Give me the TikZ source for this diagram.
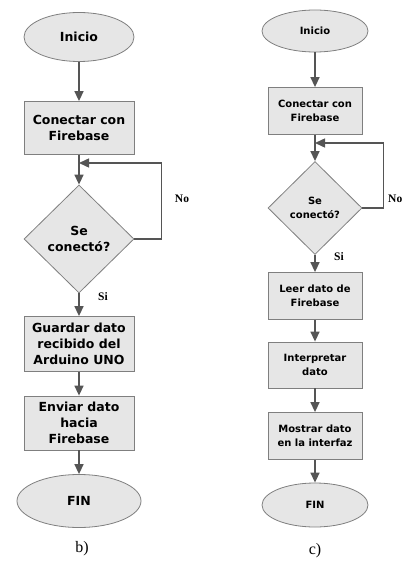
\documentclass[tikz,border=0pt]{standalone}
\usepackage{fontspec}
\setmainfont{Liberation Serif}
\newfontfamily\boxfont{DejaVu Sans}
\usetikzlibrary{shapes.geometric,arrows.meta}
\definecolor{boxfill}{HTML}{E6E6E6}
\definecolor{boxline}{HTML}{7F7F7F}
\definecolor{flowline}{HTML}{555555}

\begin{document}
\begin{tikzpicture}
  [x=1pt,y=-1pt,
    every node/.style={inner sep=0pt,align=center},
    term/.style={ellipse,draw=boxline,fill=boxfill,line width=0.8pt,font=\boxfont\bfseries\fontsize{12.5}{16}\selectfont},
    proc/.style={rectangle,draw=boxline,fill=boxfill,line width=0.8pt,font=\boxfont\bfseries\fontsize{12.5}{16}\selectfont},
    cond/.style={diamond,draw=boxline,fill=boxfill,line width=0.8pt,font=\boxfont\bfseries\fontsize{12.5}{16}\selectfont},
    small/.style={font=\boxfont\bfseries\fontsize{10}{14}\selectfont},
    tag/.style={font=\bfseries\fontsize{11.5}{14}\selectfont},
    caption/.style={font=\fontsize{16}{18}\selectfont},
    arr/.style={draw=flowline,line width=1.5pt,-{Triangle[length=10pt,width=9pt]}},
]
  \useasboundingbox (0,0) rectangle (404,561);

  % b)
  \node[term,minimum width=110pt,minimum height=49pt] (bini) at (79,37) {Inicio};
  \node[proc,minimum width=110pt,minimum height=53pt] (bcon) at (79,128) {Conectar con\\Firebase};
  \node[cond,minimum width=110pt,minimum height=108pt] (bdec) at (79,239) {Se\\conectó?};
  \node[proc,minimum width=110pt,minimum height=55pt] (bgua) at (79,344) {Guardar dato\\recibido del\\Arduino UNO};
  \node[proc,minimum width=110pt,minimum height=54pt] (benv) at (79,423) {Enviar dato\\hacia\\Firebase};
  \node[term,minimum width=124pt,minimum height=53pt] (bfin) at (79,501) {FIN};
  \coordinate (bj) at (79,163);
  \node[tag] (bno) at (182,199) {No};
  \node[tag] (bsi) at (103,297) {Si};
  \node[caption] (bcap) at (82,549) {b)};

  \draw[arr] (bini) -- (bcon);
  \draw[arr] (bcon) -- (bdec);
  \draw[arr] (bdec.east) -- ++(27,0) |- (bj);
  \draw[arr] (bdec) -- (bgua);
  \draw[arr] (bgua) -- (benv);
  \draw[arr] (benv) -- (bfin);

  % c)
  \node[term,small,minimum width=106pt,minimum height=42pt] (cini) at (315,31) {Inicio};
  \node[proc,small,minimum width=94pt,minimum height=47pt] (ccon) at (315,111) {Conectar con\\Firebase};
  \node[cond,small,minimum width=94pt,minimum height=93pt] (cdec) at (315,208) {Se\\conectó?};
  \node[proc,small,minimum width=94pt,minimum height=47pt] (clee) at (315,296) {Leer dato de\\Firebase};
  \node[proc,small,minimum width=94pt,minimum height=46pt] (cint) at (315,365) {Interpretar\\dato};
  \node[proc,small,minimum width=94pt,minimum height=47pt] (cmos) at (315,436) {Mostrar dato\\en la interfaz};
  \node[term,small,minimum width=106pt,minimum height=44pt] (cfin) at (315,505) {FIN};
  \coordinate (cj) at (315,143);
  \node[tag,anchor=west] (cno) at (388,199) {No};
  \node[tag] (csi) at (339,257) {Si};
  \node[caption] (ccap) at (315,551) {c)};

  \draw[arr] (cini) -- (ccon);
  \draw[arr] (ccon) -- (cdec);
  \draw[arr] (cdec.east) -- ++(21,0) |- (cj);
  \draw[arr] (cdec) -- (clee);
  \draw[arr] (clee) -- (cint);
  \draw[arr] (cint) -- (cmos);
  \draw[arr] (cmos) -- (cfin);
\end{tikzpicture}
\end{document}
